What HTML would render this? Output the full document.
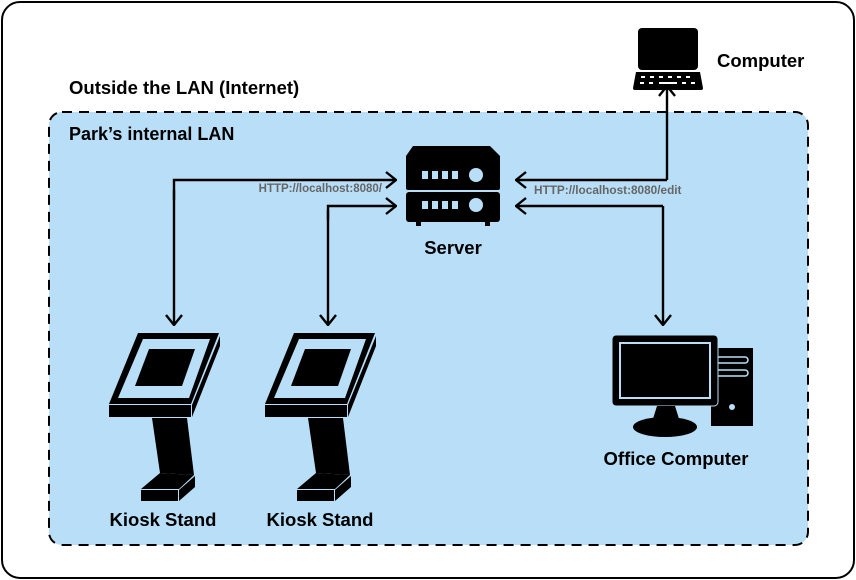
<!DOCTYPE html>
<html><head><meta charset="utf-8"><style>
html,body{margin:0;padding:0;background:#fff}
svg{display:block}
text{font-family:"Liberation Sans",sans-serif;font-weight:bold}
</style></head><body>
<svg width="856" height="580" viewBox="0 0 856 580" xmlns="http://www.w3.org/2000/svg">
<defs>
<marker id="ah" viewBox="0 0 12 18" refX="11" refY="9" markerWidth="12" markerHeight="18" markerUnits="userSpaceOnUse" orient="auto">
<path d="M1,1 L11,9 L1,17" fill="none" stroke="#000" stroke-width="2.4"/>
</marker>
<g id="kiosk">
<polygon points="138,333 219,333 191,404 109,404" fill="#000"/>
<polygon points="143,339 210,339 189,398 118,398" fill="#b8dff7"/>
<polygon points="149,349 195,349 182,386 135,386" fill="#000"/>
<rect x="109" y="405" width="82" height="12" fill="#000"/>
<polygon points="192,405 220,336 220,346 192,417" fill="#000"/>
<polygon points="152,418 187,418 194,475 160,473" fill="#000"/>
<polygon points="160,473 194,475 179,489 141,489" fill="#000"/>
<rect x="141" y="490" width="37" height="11" fill="#000"/>
<polygon points="179,490 195,476 195,487 179,501" fill="#000"/>
</g>
</defs>
<rect x="2" y="2" width="852" height="576" rx="18" fill="#fff" stroke="#000" stroke-width="2"/>
<rect x="49" y="112" width="759" height="433" rx="13" fill="#b8dff7" stroke="#000" stroke-width="2" stroke-dasharray="10,7"/>
<text x="69" y="94" font-size="18.5">Outside the LAN (Internet)</text>
<text x="69" y="140" font-size="18">Park’s internal LAN</text>

<g fill="none" stroke="#000" stroke-width="2.4">
<path d="M174,200 L174,180 L396,180" marker-end="url(#ah)"/>
<path d="M328,220 L328,206 L396,206" marker-end="url(#ah)"/>
<path d="M667,180 L516,180" marker-end="url(#ah)"/>
<path d="M667,180 L667,86" marker-end="url(#ah)"/>
<path d="M663,206 L516,206" marker-end="url(#ah)"/>
<path d="M663,206 L663,325" marker-end="url(#ah)"/>
<path d="M174,190 L174,325" marker-end="url(#ah)"/>
<path d="M328,210 L328,325" marker-end="url(#ah)"/>
</g>
<text x="382" y="192" font-size="11.5" fill="#666" text-anchor="end">HTTP://localhost:8080/</text>
<text x="534" y="194" font-size="11.8" fill="#666">HTTP://localhost:8080/edit</text>

<path d="M413,146 L490,146 L500,156 L500,188 Q500,190 498,190 L408,190 Q406,190 406,188 L406,156 Z" fill="#000"/>
<rect x="406" y="192" width="94" height="30" rx="3" fill="#000"/>
<rect x="416" y="221" width="5" height="5" fill="#000"/>
<rect x="485" y="221" width="5" height="5" fill="#000"/>
<g fill="#b8dff7">
<rect x="422" y="171" width="6" height="8"/><rect x="432" y="171" width="6" height="8"/><rect x="442" y="171" width="6" height="8"/><rect x="452" y="171" width="6" height="8"/>
<circle cx="476" cy="175" r="7"/>
<rect x="422" y="201" width="6" height="8"/><rect x="432" y="201" width="6" height="8"/><rect x="442" y="201" width="6" height="8"/><rect x="452" y="201" width="6" height="8"/>
<circle cx="476" cy="205" r="7"/>
</g>
<text x="453" y="254" font-size="18.5" text-anchor="middle">Server</text>

<rect x="638" y="28" width="60" height="42" rx="4" fill="#000"/>
<path d="M636,72 L700,72 L703,88 Q703,90 701,90 L635,90 Q633,90 633,88 Z" fill="#000"/>
<g fill="#fff">
<rect x="641" y="76" width="4" height="2"/><rect x="650" y="76" width="4" height="2"/><rect x="659" y="76" width="4" height="2"/><rect x="668" y="76" width="4" height="2"/><rect x="677" y="76" width="4" height="2"/><rect x="686" y="76" width="4" height="2"/>
<rect x="640" y="82" width="4" height="2"/><rect x="649" y="82" width="4" height="2"/><rect x="659" y="82" width="18" height="2"/><rect x="682" y="82" width="4" height="2"/><rect x="691" y="82" width="4" height="2"/>
</g>
<text x="717" y="67" font-size="18.5">Computer</text>

<use href="#kiosk"/>
<use href="#kiosk" x="156"/>
<text x="163" y="526" font-size="18.5" text-anchor="middle">Kiosk Stand</text>
<text x="320" y="526" font-size="18.5" text-anchor="middle">Kiosk Stand</text>

<rect x="711" y="348" width="42" height="78" fill="#000"/>
<rect x="712" y="357" width="36" height="6" rx="3" fill="none" stroke="#b8dff7" stroke-width="1.5"/>
<rect x="712" y="370" width="36" height="6" rx="3" fill="none" stroke="#b8dff7" stroke-width="1.5"/>
<circle cx="732" cy="407" r="3" fill="#b8dff7"/>
<rect x="612" y="335" width="106" height="71" rx="4" fill="#000" stroke="#b8dff7" stroke-width="1"/>
<rect x="620" y="343" width="90" height="55" fill="#000" stroke="#b8dff7" stroke-width="2"/>
<polygon points="657,406 675,406 680,422 652,422" fill="#000"/>
<ellipse cx="665" cy="427" rx="32" ry="10" fill="#000"/>
<text x="676" y="465" font-size="18.5" text-anchor="middle">Office Computer</text>
</svg>
</body></html>
